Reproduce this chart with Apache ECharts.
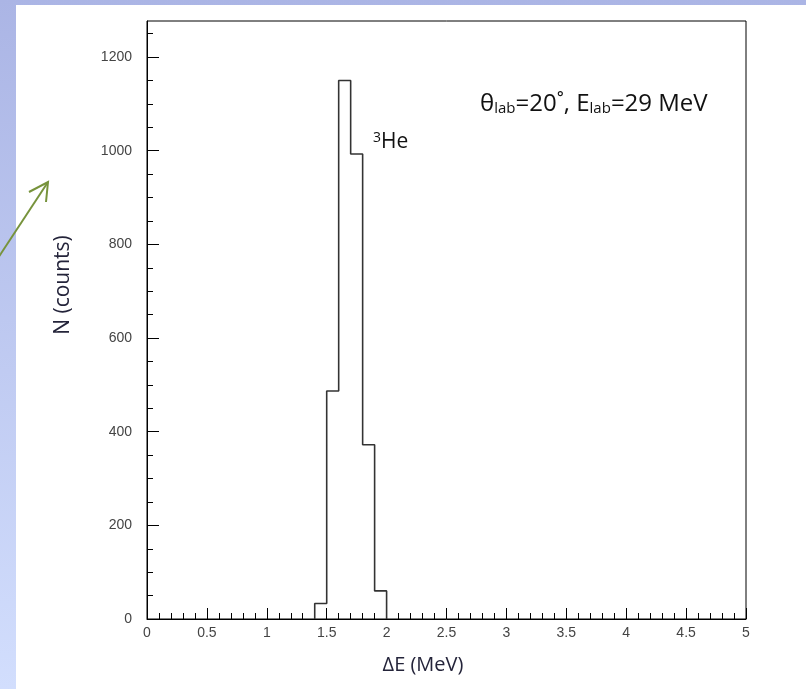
<!DOCTYPE html>
<html>
<head>
<meta charset="utf-8">
<script src="https://cdn.jsdelivr.net/npm/echarts@6/dist/echarts.min.js"></script>
<style>html,body{margin:0;padding:0;background:#fff}#c{width:806px;height:689px}</style>
</head>
<body>
<div id="c"></div>
<script>
// ---- data ----
const binEdges = [1.4, 1.5, 1.6, 1.7, 1.8, 1.9, 2.0];
const counts = [33, 487, 1150, 993, 372, 60];
const yMajorTicks = [0, 200, 400, 600, 800, 1000, 1200];
const yMinorTicks = [0, 50, 100, 150, 200, 250, 300, 350, 400, 450, 500, 550, 600, 650, 700, 750, 800, 850, 900, 950, 1000, 1050, 1100, 1150, 1200, 1250];
const xTitle = 'ΔE (MeV)';
const yTitle = 'N (counts)';

// histogram outline built from bins
const outline = [[binEdges[0], 0]];
counts.forEach((v, i) => {
  outline.push([binEdges[i], v]);
  outline.push([binEdges[i + 1], v]);
});
outline.push([binEdges[binEdges.length - 1], 0]);

const chart = echarts.init(document.getElementById('c'), null, {renderer: 'canvas'});
const labelFont = {fontFamily: 'Liberation Sans', fontSize: 14, color: '#444'};
const titleFont = '"Open Sans", sans-serif';

chart.setOption({
  animation: false,
  backgroundColor: 'transparent',
  grid: {left: 147, right: 60, top: 21, bottom: 70, show: true, borderColor: '#000', borderWidth: 1, backgroundColor: 'transparent'},
  xAxis: {
    type: 'value', min: 0, max: 5, interval: 0.5,
    axisLine: {show: true, lineStyle: {color: '#000', width: 1}},
    axisTick: {show: true, inside: true, length: 11, lineStyle: {color: '#000'}},
    minorTick: {show: true, splitNumber: 5, length: 6, lineStyle: {color: '#000'}},
    splitLine: {show: false},
    axisLabel: Object.assign({margin: 7, formatter: v => String(v)}, labelFont)
  },
  yAxis: [{
    type: 'value', min: 0, max: 1277,
    axisLine: {show: true, lineStyle: {color: '#000', width: 1}},
    axisTick: {show: true, inside: true, length: 12, customValues: yMajorTicks, lineStyle: {color: '#000'}},
    splitLine: {show: false},
    axisLabel: Object.assign({margin: 15, customValues: yMajorTicks, formatter: v => String(v)}, labelFont)
  }, {
    type: 'value', min: 0, max: 1277, position: 'left',
    axisLine: {show: false},
    axisTick: {show: true, inside: true, length: 6, customValues: yMinorTicks, lineStyle: {color: '#000'}},
    splitLine: {show: false},
    axisLabel: {show: false}
  }],
  series: [{
    type: 'line',
    data: outline,
    showSymbol: false,
    symbol: 'none',
    lineStyle: {color: '#333', width: 1.6},
    z: 3
  }],
  graphic: [
    {type: 'rect', z: -100, silent: true, shape: {x: 0, y: 0, width: 806, height: 689},
      style: {fill: new echarts.graphic.LinearGradient(0, 0, 0, 1, [{offset: 0, color: '#abb5e5'}, {offset: 1, color: '#d2defd'}])}},
    {type: 'rect', z: -99, silent: true, shape: {x: 16, y: 5, width: 790, height: 684}, style: {fill: '#ffffff'}},
    // green arrow
    {type: 'polyline', z: 10, silent: true, shape: {points: [[-2, 258], [48, 182]]}, style: {stroke: '#77933c', lineWidth: 2, fill: null}},
    {type: 'polyline', z: 10, silent: true, shape: {points: [[29, 192], [48, 182], [46, 202]]}, style: {stroke: '#77933c', lineWidth: 2, fill: null}},
    // axis titles
    {type: 'text', z: 10, x: 63, y: 285, rotation: Math.PI / 2,
      style: {text: yTitle, fontFamily: titleFont, fontSize: 21, fill: '#24243a', align: 'center', verticalAlign: 'middle'}},
    {type: 'text', z: 10, x: 423, y: 665,
      style: {text: xTitle, fontFamily: titleFont, fontSize: 20, fill: '#24243a', align: 'center', verticalAlign: 'middle'}},
    // annotations
    {type: 'text', z: 10, x: 480, y: 104,
      style: {
        text: '{t|θ}{s|lab}{t|=20˚, E}{s|lab}{t|=29 MeV}',
        verticalAlign: 'middle',
        rich: {
          t: {fontFamily: titleFont, fontSize: 24, fill: '#111', color: '#111'},
          s: {fontFamily: titleFont, fontSize: 15, fill: '#111', color: '#111', verticalAlign: 'bottom'}
        }
      }},
    {type: 'text', z: 10, x: 373, y: 142,
      style: {
        text: '{p|3}{t|He}',
        verticalAlign: 'middle',
        rich: {
          t: {fontFamily: titleFont, fontSize: 21, fill: '#111', color: '#111'},
          p: {fontFamily: titleFont, fontSize: 14, fill: '#111', color: '#111', verticalAlign: 'top'}
        }
      }}
  ]
});
</script>
</body>
</html>
